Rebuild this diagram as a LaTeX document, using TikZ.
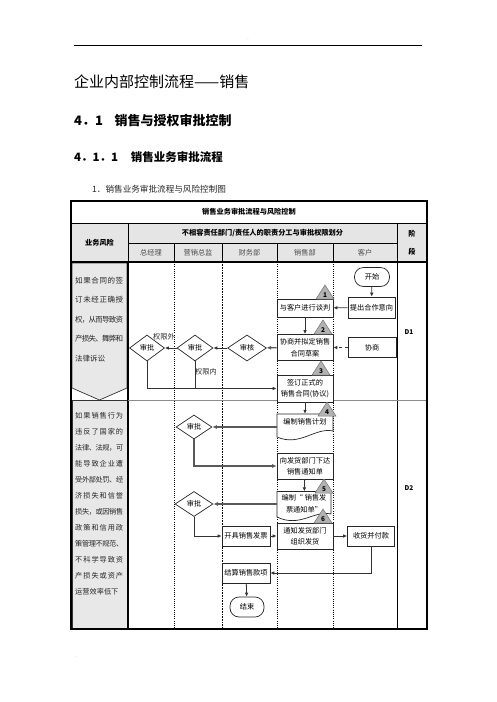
\documentclass[tikz,border=0pt]{standalone}
\usepackage{fontspec}
\setmainfont{Noto Sans CJK SC}
\usetikzlibrary{shapes.geometric,arrows.meta}
\makeatletter
\def\spr#1{\spr@a#1\spr@end}
\def\spr@a#1#2\spr@end{#1\ifx\relax#2\relax\else\hskip0pt plus1fil minus1pt\relax\spr@a#2\spr@end\fi}
\makeatother
\newcommand\jl[1]{\hbox to 48pt{\spr{#1}}}
\newcommand\tri[4]{\draw[trishape] (#2-9,#3) -- (#2,#3-14) -- (#2+9,#3) -- cycle;
  \node[trinum] (#1) at (#2,#3-4.3) {#4};}
\begin{document}
\begin{tikzpicture}[x=1pt,y=-1pt,
  txt/.style={inner sep=0pt, font=\fontsize{7.2}{9}\selectfont},
  hdr/.style={inner sep=0pt, font=\fontsize{7.2}{9}\selectfont\bfseries},
  col/.style={inner sep=0pt, text=black!70, font=\fontsize{7.2}{9}\selectfont},
  box/.style={draw=black!85, line width=0.7pt, fill=white, align=center, inner sep=0pt,
    font=\fontsize{7.2}{11.5}\selectfont},
  doc/.style={inner sep=0pt, align=center, font=\fontsize{7.2}{11.5}\selectfont},
  docline/.style={draw=black!85, line width=0.7pt, fill=white},
  dia/.style={diamond, draw=black!85, line width=0.7pt, fill=white, inner sep=0pt,
    minimum width=37, minimum height=25, font=\fontsize{7.2}{9}\selectfont},
  term/.style={draw=black!85, line width=0.7pt, fill=white, rounded corners=9pt, inner sep=0pt,
    minimum width=35, minimum height=19, font=\fontsize{7.2}{9}\selectfont},
  arr/.style={draw=black!80, line width=0.8pt, -{Latex[length=4pt,width=3.6pt]}},
  thk/.style={draw=black!65, line width=1.4pt, -{Latex[length=4.5pt,width=4pt]}},
  dsh/.style={draw=black!80, line width=0.8pt, dashed, -{Latex[length=4pt,width=3.6pt]}},
  ln/.style={draw=black!80, line width=0.8pt},
  trishape/.style={fill=black!30, draw=black!55, line width=0.5pt},
  trinum/.style={inner sep=0pt, font=\fontsize{6.5}{7}\selectfont\bfseries},
  risk/.style={inner sep=0pt, anchor=north west, align=left, text=black!85},
  lab/.style={inner sep=0pt, font=\fontsize{7.2}{9}\selectfont, text=black!85}
]
\useasboundingbox (0,0) rectangle (496,702);

% page header
\draw[line width=0.8pt] (74,45) -- (422,45);
\node[inner sep=0pt, text=black!35, font=\fontsize{4}{4}\selectfont] (m1) at (248,41) {-};
\node[inner sep=0pt, text=black!35, font=\fontsize{4}{4}\selectfont] (m2) at (76,658) {-};
\node[anchor=west, inner sep=0pt, font=\fontsize{15}{15}\selectfont] (t1) at (74,82) {企业内部控制流程——销售};
\node[anchor=west, inner sep=0pt, font=\fontsize{13}{13}\selectfont\bfseries] (t2) at (74,120) {4．1\hspace{0.9em}销售与授权审批控制};
\node[anchor=west, inner sep=0pt, font=\fontsize{11.5}{12}\selectfont\bfseries] (t3) at (74,157) {4．1．1\hspace{1.1em}销售业务审批流程};
\node[anchor=west, inner sep=0pt, font=\fontsize{8.6}{9}\selectfont, text=black!85] (t4) at (92,189) {1．销售业务审批流程与风险控制图};

% table background
\fill[black!10] (71,223) rectangle (427,262);
\filldraw[fill=black!9, draw=black!80, line width=0.7pt] (72,263) -- (127,263) -- (127,388) -- (99.5,400) -- (72,388) -- cycle;
\filldraw[fill=black!9, draw=black!80, line width=0.7pt] (72,400.5) rectangle (127,628);

% table lines
\draw[line width=0.8pt] (71,223) -- (427,223);
\draw[line width=0.7pt] (128,243) -- (397,243);
\draw[line width=0.7pt] (128,223) -- (128,262) (397,223) -- (397,262);
\foreach \cx in {174,222,277,333} \draw[line width=0.6pt] (\cx,243) -- (\cx,262);
\draw[line width=1.3pt] (71,262) -- (427,262);
\draw[line width=1.3pt] (128,262) -- (128,629);
\draw[line width=0.7pt] (397,262) -- (397,629);
\draw[line width=0.6pt, dash pattern=on 1pt off 1.2pt] (174,262) -- (174,629);
\draw[line width=0.7pt, dash pattern=on 0.8pt off 0.8pt] (222,262) -- (222,629);
\draw[line width=0.6pt, dash pattern=on 1pt off 1.2pt] (277,262) -- (277,629);
\draw[line width=0.6pt, dash pattern=on 1pt off 1.2pt] (333,262) -- (333,629);
\draw[black!45, line width=0.6pt] (128,400) -- (427,400);
\draw[line width=1.4pt] (71,201) rectangle (427,629);

% header texts
\node[hdr] (h0) at (249,212) {销售业务审批流程与风险控制};
\node[hdr] (h1) at (262.5,233.5) {不相容责任部门/责任人的职责分工与审批权限划分};
\node[hdr] (h2) at (99.5,243) {业务风险};
\node[hdr] (h3) at (412,234) {阶};
\node[hdr] (h4) at (412,252) {段};
\node[col] (c1) at (151,252.5) {总经理};
\node[col] (c2) at (198,252.5) {营销总监};
\node[col] (c3) at (249.5,252.5) {财务部};
\node[col] (c4) at (305,252.5) {销售部};
\node[col] (c5) at (365,252.5) {客户};
\node[inner sep=0pt, font=\fontsize{6.5}{7}\selectfont\bfseries] (d1) at (409,332) {D1};
\node[inner sep=0pt, font=\fontsize{6.5}{7}\selectfont\bfseries] (d2) at (409,488) {D2};

% risks
\node[risk, font=\fontsize{7.5}{19.6}\selectfont] (r1) at (75,276.5)
  {\jl{如果合同的签}\\ \jl{订未经正确授}\\ \jl{权，从而导致资}\\ \jl{产损失、舞弊和}\\ 法律诉讼};
\node[risk, font=\fontsize{7.2}{16}\selectfont] (r2) at (75,412.5)
  {\jl{如果销售行为}\\ \jl{违反了国家的}\\ \jl{法律、法规，可}\\ \jl{能导致企业遭}\\ \jl{受外部处罚、经}\\ \jl{济损失和信誉}\\ \jl{损失，或因销售}\\ \jl{政策和信用政}\\ \jl{策管理不规范、}\\ \jl{不科学导致资}\\ \jl{产损失或资产}\\ 运营效率低下};

% D1 flow
\node[term] (start) at (372,277) {开始};
\node[box, minimum width=47, minimum height=21] (yx) at (371.5,307.5) {提出合作意向};
\node[box, minimum width=56, minimum height=18] (tp) at (305,308) {与客户进行谈判};
\node[box, minimum width=56, minimum height=26] (ni) at (305,347.5) {协商并拟定销售\\合同草案};
\node[box, minimum width=48, minimum height=20] (xs) at (372,347.5) {协商};
\node[dia, minimum width=39, minimum height=26] (sh) at (247,348) {审核};
\node[dia, minimum width=36, minimum height=26] (sp2) at (195,348) {审批};
\node[dia, minimum width=35, minimum height=26] (sp1) at (147,348) {审批};
\node[box, minimum width=56, minimum height=27] (qd) at (305,388.5) {签订正式的\\销售合同(协议)};
\node[lab] (lw) at (164,337) {权限外};
\node[lab] (ln1) at (206,372) {权限内};

\draw[arr] (start) -- (yx);
\draw[arr] (yx) -- (tp);
\draw[arr] (tp) -- (ni);
\draw[dsh] (xs) -- (ni);
\draw[thk] (ni) -- (sh);
\draw[arr] (sh) -- (sp2);
\draw[arr] (sp2) -- (sp1);
\draw[ln] (sp2.south) -- (sp2.south |- qd.west);
\draw[arr] (sp1.south) |- (qd.west);

% D2 flow: document outlines first, then their texts
\path[docline] (277,414) -- (333,414) -- (333,431) .. controls (315,427) and (300,447) .. (277,437) -- cycle;
\path[docline] (277,491.5) -- (331,491.5) -- (331,514) .. controls (314,510) and (300,528) .. (277,517) -- cycle;
\node[doc, minimum width=56, minimum height=16] (plan) at (305,422) {编制销售计划};
\node[dia, minimum width=36, minimum height=24] (sp3) at (194,427) {审批};
\node[box, minimum width=56, minimum height=26] (tz) at (305,466) {向发货部门下达\\销售通知单};
\node[doc, minimum width=54, minimum height=24] (fp) at (304,503.5) {编制“ 销售发\\票通知单”};
\node[dia, minimum width=38, minimum height=25] (sp4) at (194,504) {审批};
\node[box, minimum width=48, minimum height=20] (kp) at (246,536) {开具销售发票};
\node[box, minimum width=56, minimum height=26] (tz2) at (305,536) {通知发货部门\\组织发货};
\node[box, minimum width=47, minimum height=20] (sh2) at (371,536) {收货并付款};
\node[box, minimum width=48, minimum height=20] (js) at (246,573) {结算销售款项};
\node[term, minimum width=34, minimum height=20] (end) at (247,607) {结束};

\draw[arr] (qd) -- (plan);
\draw[thk] (sp3.east -| plan.west) -- (sp3.east);
\draw[thk] (sp3.south) |- (tz.west);
\draw[arr] (tz) -- (fp);
\draw[thk] (sp4.east -| fp.west) -- (sp4.east);
\draw[arr] (sp4.south) |- (kp.west);
\draw[arr] (kp) -- (tz2);
\draw[arr] (tz2) -- (sh2);
\draw[arr] (sh2.south) |- (js.east);
\draw[arr] (js) -- (end);

% numbered triangles
\tri{n1}{325}{299}{1}
\tri{n2}{323}{334}{2}
\tri{n3}{321}{375}{3}
\tri{n4}{327}{416}{4}
\tri{n5}{324}{493}{5}
\tri{n6}{323}{523}{6}
\end{tikzpicture}
\end{document}
